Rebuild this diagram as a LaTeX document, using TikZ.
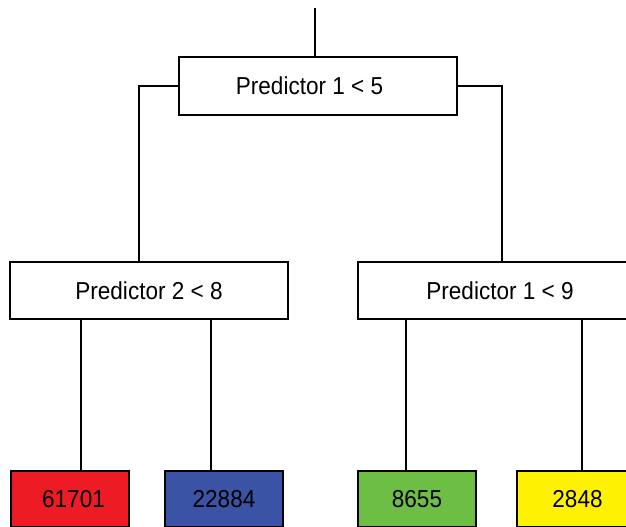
\documentclass[tikz,border=0pt]{standalone}
\usepackage{fontspec}
\setmainfont[FakeStretch=0.92]{Liberation Sans}
\definecolor{leafred}{HTML}{ED1C24}
\definecolor{leafblue}{HTML}{3A53A4}
\definecolor{leafgreen}{HTML}{6CBE45}
\definecolor{leafyellow}{HTML}{FFF200}
\begin{document}
\begin{tikzpicture}[x=1pt,y=-1pt,
  every node/.style={font=\fontsize{24.5}{28}\selectfont},
  split/.style={draw=black,line width=2pt,fill=white,rectangle,inner sep=0pt,minimum height=57pt},
  leaf/.style={draw=black,line width=2pt,rectangle,inner sep=0pt,minimum width=118pt,minimum height=56pt},
  link/.style={draw=black,line width=2pt}]
\useasboundingbox (0,0) rectangle (626,527);
\clip (0,0) rectangle (626,527);
% x positions of connectors
\coordinate (top) at (315,8);
\coordinate (cL) at (138.5,0);
\coordinate (cR) at (502,0);
\coordinate (c1) at (80.5,0);
\coordinate (c2) at (210.5,0);
\coordinate (c3) at (406,0);
\coordinate (c4) at (582,0);
% nodes
\node[split,minimum width=278pt,minimum height=58pt] (root) at (318,86) {Predictor 1 < 5\kern17pt};
\node[split,minimum width=278pt] (l2l) at (149,290.5) {Predictor 2 < 8};
\node[split,minimum width=284pt] (l2r) at (500,290.5) {Predictor 1 < 9};
\node[leaf,fill=leafred] (red) at (70,499) {\kern7pt 61701};
\node[leaf,fill=leafblue] (blue) at (224,499) {22884};
\node[leaf,fill=leafgreen] (green) at (417,499) {8655};
\node[leaf,fill=leafyellow,minimum width=121pt] (yellow) at (577.5,499) {2848};
% connectors
\draw[link] (top) -- (top |- root.north);
\draw[link] (root.west) -| (cL |- l2l.north);
\draw[link] (root.east) -| (cR |- l2r.north);
\draw[link] (c1 |- l2l.south) -- (c1 |- red.north);
\draw[link] (c2 |- l2l.south) -- (c2 |- blue.north);
\draw[link] (c3 |- l2r.south) -- (c3 |- green.north);
\draw[link] (c4 |- l2r.south) -- (c4 |- yellow.north);
\end{tikzpicture}
\end{document}
